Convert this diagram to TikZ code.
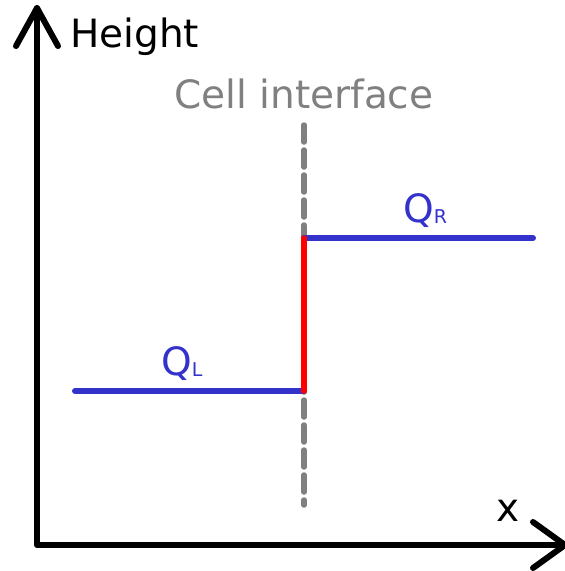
\documentclass[tikz,border=0pt]{standalone}
\usepackage{fontspec}
\setmainfont{DejaVu Sans}
\usetikzlibrary{positioning}
\definecolor{stateblue}{RGB}{51,51,204}
\definecolor{ifacegray}{RGB}{128,128,128}

\begin{document}
\begin{tikzpicture}[x=1pt,y=-1pt,
    axis/.style={line width=6pt,line cap=round,line join=round},
    state/.style={line width=6pt,stateblue,line cap=round},
    jump/.style={line width=5.5pt,red,line cap=round},
    iface/.style={line width=5.5pt,ifacegray,line cap=round,dash pattern=on 17pt off 8pt},
    lbl/.style={font=\fontsize{39}{41}\selectfont,inner sep=0pt,anchor=base west}
]
\useasboundingbox (0,0) rectangle (565,571);

\coordinate (origin) at (37,545);
\coordinate (ytop) at (37,8);
\coordinate (xend) at (565,545);
\coordinate (ifacetop) at (304,125);
\coordinate (ifacebot) at (304,505);
\coordinate (qlstart) at (75,391);
\coordinate (qlend) at (304,391);
\coordinate (qrstart) at (304,238);
\coordinate (qrend) at (533,238);

\draw[axis] (ytop) -- (origin) -- (xend);
\draw[axis] ([xshift=-21pt,yshift=-38pt]ytop) -- (ytop) -- ([xshift=21pt,yshift=-38pt]ytop);
\draw[axis] ([xshift=-32pt,yshift=23pt]xend) -- (xend) -- ([xshift=-32pt,yshift=-23pt]xend);

\draw[iface] (ifacetop) -- (ifacebot);
\draw[state] (qlstart) -- (qlend);
\draw[state] (qrstart) -- (qrend);
\draw[jump] (qlend) -- (qrstart);

\node[lbl] (height) at (70,47) {Height};
\node[lbl,ifacegray] (ifacelbl) at (174,108) {Cell interface};
\node[lbl,stateblue] (ql) at (161,375) {Q{\fontsize{19}{20}\selectfont\raisebox{-1pt}{L}}};
\node[lbl,stateblue] (qr) at (403,222) {Q{\fontsize{19}{20}\selectfont\raisebox{-1pt}{R}}};
\node[lbl] (xlbl) at (496,521) {x};
\end{tikzpicture}
\end{document}
